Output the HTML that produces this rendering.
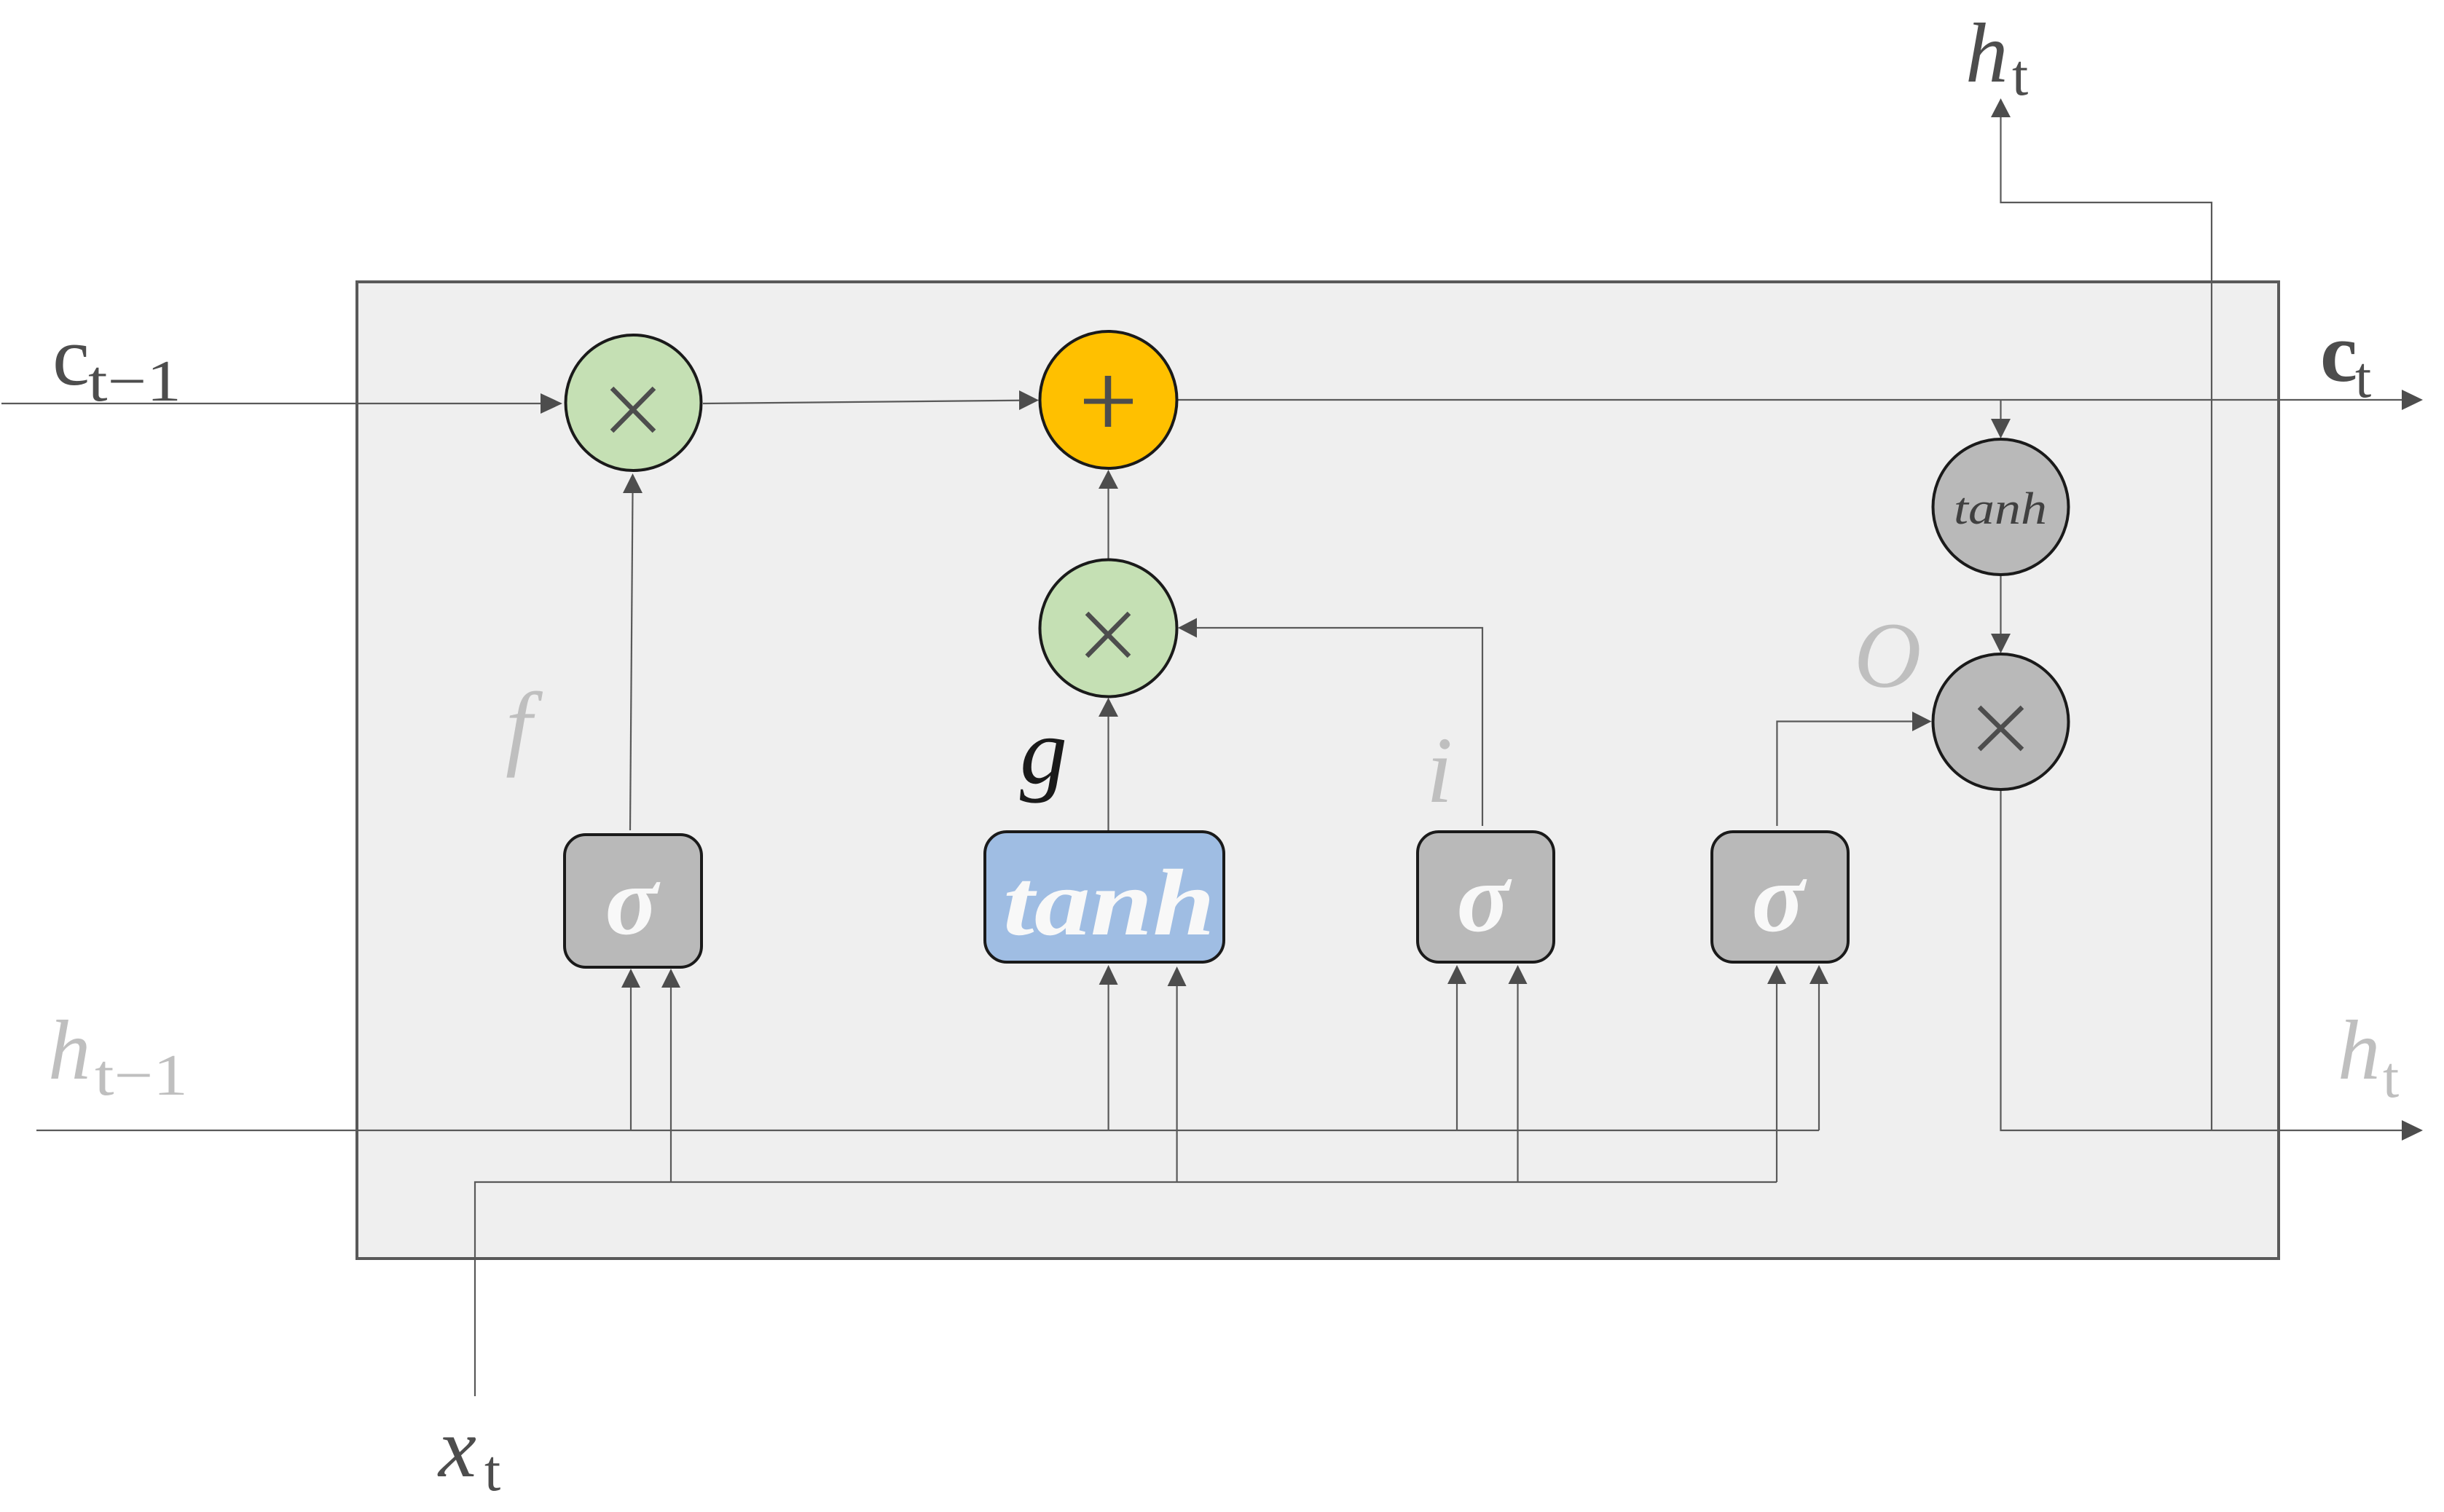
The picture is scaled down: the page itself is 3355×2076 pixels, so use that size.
<!DOCTYPE html>
<html>
<head>
<meta charset="utf-8">
<style>
  html, body { margin:0; padding:0; background:#ffffff; }
  svg { display:block; }
  text { font-family: "Liberation Serif", "DejaVu Serif", serif; }
</style>
</head>
<body>
<svg width="3355" height="2076" viewBox="0 0 3355 2076" xmlns="http://www.w3.org/2000/svg">
  <rect x="0" y="0" width="3355" height="2076" fill="#ffffff"/>

  <!-- main cell box -->
  <rect x="490" y="387" width="2638" height="1341" fill="#efefef" stroke="#595959" stroke-width="4"/>

  <!-- connector lines -->
  <g fill="none" stroke="#595959" stroke-width="2.2">
    <!-- cell state path -->
    <path d="M2 554 H744"/>
    <path d="M965 554 L1402 549.7"/>
    <path d="M1617 549 H3300"/>
    <path d="M2746.5 549 V577"/>
    <path d="M2746.5 789 V872"/>
    <!-- output path -->
    <path d="M2746.5 1086 V1552 H3300"/>
    <path d="M3036 1552 V278 H2746.5 V160"/>
    <!-- gate outputs -->
    <path d="M865 1140 L868.5 676"/>
    <path d="M1521.5 767 V670"/>
    <path d="M1521.5 1140 V983"/>
    <path d="M2035 1134 V862 H1642"/>
    <path d="M2439.4 1134 V990.5 H2627"/>
    <!-- h_{t-1} bus -->
    <path d="M50 1552 H2497"/>
    <!-- x_t bus -->
    <path d="M652 1917 V1623 H2439"/>
    <!-- gate inputs -->
    <path d="M866 1552 V1354"/>
    <path d="M921 1623 V1354"/>
    <path d="M1521.6 1552 V1350"/>
    <path d="M1615.6 1623 V1352"/>
    <path d="M2000 1552 V1350"/>
    <path d="M2083.5 1623 V1350"/>
    <path d="M2439 1623 V1350"/>
    <path d="M2497 1552 V1350"/>
  </g>

  <!-- arrowheads -->
  <g fill="#4d4d4d">
    <!-- right pointing -->
    <polygon points="772,554 742,540 742,568"/>
    <polygon points="1426,549.5 1399,536 1399,563"/>
    <polygon points="3326,549 3297,535 3297,563"/>
    <polygon points="3326,1552 3297,1538 3297,1566"/>
    <polygon points="2651.5,990.5 2625,977 2625,1004"/>
    <!-- left pointing -->
    <polygon points="1617,862 1643,848.5 1643,875.5"/>
    <!-- down pointing -->
    <polygon points="2746.5,602 2733,575 2760,575"/>
    <polygon points="2746.5,897 2733,870 2760,870"/>
    <!-- up pointing -->
    <polygon points="2746.5,135 2733,161 2760,161"/>
    <polygon points="868.5,650 855,677 882,677"/>
    <polygon points="1521.5,645 1508,671 1535,671"/>
    <polygon points="1521.5,958 1508,984 1535,984"/>
    <!-- gate input arrows -->
    <polygon points="866,1330 853,1356 879,1356"/>
    <polygon points="921,1330 908,1356 934,1356"/>
    <polygon points="1521.6,1325 1508.6,1352 1534.6,1352"/>
    <polygon points="1615.6,1327 1602.6,1354 1628.6,1354"/>
    <polygon points="2000,1325 1987,1351 2013,1351"/>
    <polygon points="2083.5,1325 2070.5,1351 2096.5,1351"/>
    <polygon points="2439,1325 2426,1351 2452,1351"/>
    <polygon points="2497,1325 2484,1351 2510,1351"/>
  </g>

  <!-- pointwise op circles -->
  <g stroke="#1a1a1a" stroke-width="4">
    <circle cx="869.5" cy="553" r="93" fill="#c5e0b4"/>
    <circle cx="1521.5" cy="549" r="94" fill="#ffc000"/>
    <circle cx="1521.5" cy="862.5" r="94" fill="#c5e0b4"/>
    <circle cx="2746.5" cy="696" r="93" fill="#b9b9b9"/>
    <circle cx="2746.5" cy="991" r="93" fill="#b9b9b9"/>
  </g>

  <!-- × and + symbols -->
  <g stroke="#4d4d4d" stroke-width="6.5" fill="none">
    <path d="M840 533 L898 592 M898 533 L840 592"/>
    <path d="M1492 842 L1550 901 M1550 842 L1492 901"/>
    <path d="M2717 971 L2776 1029 M2776 971 L2717 1029"/>
  </g>
  <g stroke="#4d4d4d" fill="none">
    <path d="M1521 516 V586" stroke-width="8.5"/>
    <path d="M1488 551 H1555" stroke-width="7"/>
  </g>

  <!-- gate boxes -->
  <g stroke="#1a1a1a" stroke-width="4">
    <rect x="775" y="1146" width="188" height="182" rx="29" ry="29" fill="#b9b9b9"/>
    <rect x="1352" y="1142" width="328" height="179" rx="30" ry="30" fill="#9fbde3"/>
    <rect x="1946" y="1142" width="187" height="179" rx="29" ry="29" fill="#b9b9b9"/>
    <rect x="2350" y="1142" width="187" height="179" rx="29" ry="29" fill="#b9b9b9"/>
  </g>

  <!-- gate labels -->
  <g fill="#f8f8f8" font-weight="bold" font-style="italic">
    <text x="1377" y="1283" font-size="130" textLength="291" lengthAdjust="spacingAndGlyphs">tanh</text>
    <text x="867" y="1282" font-size="135" text-anchor="middle">σ</text>
    <text x="2036" y="1278" font-size="135" text-anchor="middle">σ</text>
    <text x="2441" y="1278" font-size="135" text-anchor="middle">σ</text>
  </g>
  <text x="2682" y="719" font-size="62" font-style="italic" fill="#404040" textLength="128" lengthAdjust="spacingAndGlyphs">tanh</text>

  <!-- gate names -->
  <text x="694" y="1040" font-size="130" font-style="italic" fill="#bfbfbf">f</text>
  <text x="1400" y="1075" font-size="130" font-style="italic" fill="#1a1a1a">g</text>
  <text x="1958" y="1101" font-size="130" font-style="italic" fill="#bfbfbf">i</text>
  <text x="2545" y="943" font-size="128" font-style="italic" fill="#bfbfbf">O</text>

  <!-- input / output labels -->
  <g fill="#4d4d4d">
    <text x="72" y="528" font-size="115">c</text>
    <text x="121" y="550" font-size="80" textLength="128" lengthAdjust="spacingAndGlyphs">t−1</text>

    <text x="2698" y="112" font-size="117" font-style="italic">h</text>
    <text x="2762" y="130" font-size="80">t</text>

    <text x="3185" y="523" font-size="115" font-weight="bold">c</text>
    <text x="3233" y="545" font-size="80">t</text>

    <text x="602" y="2027" font-size="117" font-style="italic">x</text>
    <text x="665" y="2046" font-size="80">t</text>
  </g>
  <g fill="#bfbfbf">
    <text x="66" y="1481" font-size="117" font-style="italic">h</text>
    <text x="130" y="1503" font-size="80" textLength="128" lengthAdjust="spacingAndGlyphs">t−1</text>

    <text x="3209" y="1481" font-size="117" font-style="italic">h</text>
    <text x="3271" y="1506" font-size="80">t</text>
  </g>
</svg>
</body>
</html>
